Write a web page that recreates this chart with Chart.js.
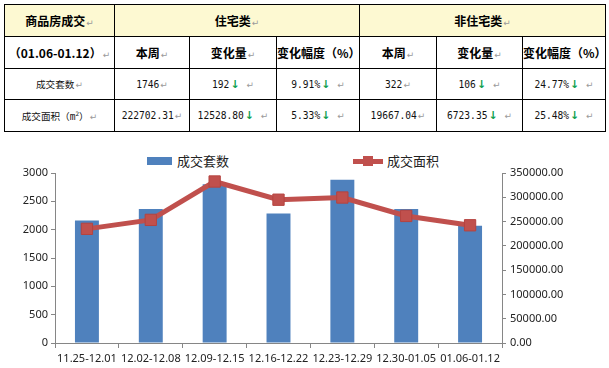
<!DOCTYPE html>
<html><head><meta charset="utf-8">
<script src="https://cdn.jsdelivr.net/npm/chart.js@4"></script>
<style>
html,body{margin:0;padding:0;background:#fff;width:609px;height:368px;overflow:hidden;position:relative;font-family:"Noto Sans CJK SC",sans-serif;}
table{position:absolute;left:4px;top:4px;border-collapse:collapse;table-layout:fixed;width:601px;}
td{border:1px solid #000;padding:0;text-align:center;vertical-align:middle;white-space:nowrap;overflow:hidden;font-family:"DejaVu Sans Mono","Noto Sans CJK SC",monospace;font-size:9.6px;color:#111;}
tr.h1 td{background:#FDF9D2;}
tr.h1 td, tr.h2 td{font-family:"Noto Sans CJK SC",sans-serif;font-weight:700;font-size:12px;color:#000;}
.pm{font-family:"DejaVu Sans",sans-serif;font-weight:400;font-size:9px;color:#9a9a9a;margin-left:1px;}
.dn{font-family:"DejaVu Sans",sans-serif;font-weight:700;font-size:11px;color:#11A050;margin-left:1px;}
#wrap{position:absolute;left:0;top:138px;width:609px;height:230px;}
.lg{position:absolute;font-family:"Noto Sans CJK SC",sans-serif;font-size:13px;line-height:16px;color:#222;}
</style>
</head><body>
<table id="tbl">
<colgroup><col style="width:110px"><col style="width:75px"><col style="width:87px"><col style="width:83px"><col style="width:77px"><col style="width:86px"><col style="width:83px"></colgroup>
<tbody id="tb"></tbody>
</table>
<div class="lg" style="left:147px;top:157px;width:25px;height:8px;background:#4F81BD;"></div>
<div class="lg" style="left:177px;top:153px;">成交套数</div>
<div class="lg" style="left:353px;top:159px;width:30px;height:5px;background:#C0504D;"></div>
<div class="lg" style="left:363px;top:156px;width:10px;height:10px;background:#C0504D;"></div>
<div class="lg" style="left:387px;top:153px;">成交面积</div>
<div id="wrap"><canvas id="c" width="609" height="230"></canvas></div>
<script>
// ---- table data ----
const tableTitle = ['商品房成交', '住宅类', '非住宅类'];
const tablePeriod = '（01.06-01.12）';
const tableSubHeads = ['本周', '变化量', '变化幅度（%）', '本周', '变化量', '变化幅度（%）'];
const rowLabels = ['成交套数', '成交面积（m²）'];
const rowUnits = ['1746', '192', '9.91%', '322', '106', '24.77%'];
const rowArea = ['222702.31', '12528.80', '5.33%', '19667.04', '6723.35', '25.48%'];
const downFlags = [false, true, true, false, true, true];

// ---- chart data ----
const categories = ['11.25-12.01','12.02-12.08','12.09-12.15','12.16-12.22','12.23-12.29','12.30-01.05','01.06-01.12'];
const unitsSold = [2160, 2365, 2800, 2285, 2880, 2366, 2068];
const areaSold = [235000, 253500, 332500, 295000, 299500, 261621.50, 242369.35];
const leftAxis = {min: 0, max: 3000, step: 500};
const rightAxis = {min: 0, max: 350000, step: 50000};

const PM = '<span class="pm">↵</span>';
const tb = document.getElementById('tb');
function cell(html, attrs) { return '<td' + (attrs || '') + '>' + html + '</td>'; }
let h = '';
h += '<tr class="h1" style="height:32px">' + cell(tableTitle[0] + PM) + cell(tableTitle[1] + PM, ' colspan="3"') + cell(tableTitle[2] + PM, ' colspan="3"') + '</tr>';
h += '<tr class="h2" style="height:32px">' + cell(tablePeriod + PM) + tableSubHeads.map(s => cell(s + PM)).join('') + '</tr>';
function dataRow(label, vals, ht) {
  return '<tr style="height:' + ht + 'px">' + cell(label + PM) + vals.map((v, i) => cell(v + (downFlags[i] ? '<span class="dn">↓</span>' : '') + (downFlags[i] ? ' ' : '') + PM)).join('') + '</tr>';
}
h += dataRow(rowLabels[0], rowUnits, 31);
h += dataRow(rowLabels[1].replace('m²', 'm<sup style="font-size:6px">2</sup>'), rowArea, 32);
tb.innerHTML = h;

const axisGray = '#868686';
const tickFont = {family: 'Noto Sans', size: 11};
new Chart(document.getElementById('c'), {
  data: {
    labels: categories,
    datasets: [
      {type: 'line', label: '成交面积', data: areaSold, yAxisID: 'y1', order: 0,
       borderColor: '#C0504D', borderWidth: 5, tension: 0,
       pointStyle: 'rect', pointRadius: 8, pointBackgroundColor: '#C0504D', pointBorderColor: '#B5433F', pointBorderWidth: 1},
      {type: 'bar', label: '成交套数', data: unitsSold, yAxisID: 'y', order: 1,
       backgroundColor: '#4F81BD', borderWidth: 0, categoryPercentage: 1, barPercentage: 0.375}
    ]
  },
  options: {
    responsive: false, animation: false, devicePixelRatio: 1,
    layout: {padding: {top: 35, bottom: 0, left: 0, right: 0}},
    plugins: {legend: {display: false}, tooltip: {enabled: false}},
    scales: {
      x: {
        offset: true,
        grid: {display: true, drawOnChartArea: false, drawTicks: true, tickLength: 5, color: axisGray, offset: true},
        border: {color: axisGray},
        ticks: {font: tickFont, color: '#222', maxRotation: 0, autoSkip: false, padding: 4},
        afterFit: s => { s.height = 25; }
      },
      y: {
        position: 'left', min: leftAxis.min, max: leftAxis.max,
        grid: {display: true, drawOnChartArea: false, tickLength: 4, color: axisGray},
        border: {color: axisGray},
        ticks: {stepSize: leftAxis.step, font: tickFont, color: '#222', padding: 3, callback: v => String(v)},
        afterFit: s => { s.width = 55; }
      },
      y1: {
        position: 'right', min: rightAxis.min, max: rightAxis.max,
        grid: {display: true, drawOnChartArea: false, tickLength: 4, color: axisGray},
        border: {color: axisGray},
        ticks: {stepSize: rightAxis.step, font: tickFont, color: '#222', padding: 4, callback: v => Number(v).toFixed(2)},
        afterFit: s => { s.width = 107; }
      }
    }
  }
});
</script>
</body></html>
